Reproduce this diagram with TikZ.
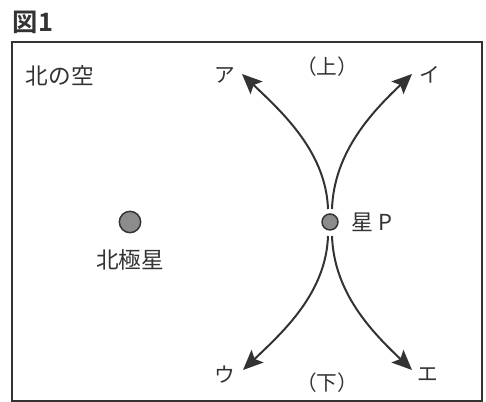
\documentclass[tikz,border=0pt]{standalone}
\usepackage{fontspec}
\newfontfamily\jp{Noto Sans CJK JP}
\newfontfamily\jpb{Noto Sans CJK JP Bold}
\usetikzlibrary{arrows.meta}
\definecolor{ink}{HTML}{333333}
\definecolor{dotfill}{HTML}{8C8C8C}
\tikzset{
  lbl/.style={font=\jp\fontsize{15.5pt}{15.5pt}\selectfont, text=ink, inner sep=0pt},
  biglbl/.style={font=\jp\fontsize{17pt}{17pt}\selectfont, text=ink, inner sep=0pt},
  trail/.style={draw=ink, line width=1.5pt, -{Stealth[length=15pt,width=13pt,inset=3pt]}},
  starball/.style={circle, draw=ink, line width=1.1pt, fill=dotfill, inner sep=0pt},
}
\begin{document}
\begin{tikzpicture}[x=0.75pt,y=0.75pt]
\useasboundingbox (0,0) rectangle (486,402);
\fill[white] (0,0) rectangle (486,402);
\draw[ink, line width=1.3pt] (12,1) rectangle (482,360);
\node[font=\jpb\fontsize{19pt}{19pt}\selectfont, text=ink, inner sep=0pt] (title) at (33,380) {図1};
\node[biglbl] (sky) at (60,326) {北の空};
\node[starball, minimum size=16pt] (polaris) at (130,180) {};
\node[biglbl] (polarislbl) at (130,142) {北極星};
\node[starball, minimum size=12pt] (P) at (330,180) {};
\node[lbl, anchor=west, font=\jp\fontsize{16.5pt}{16.5pt}\selectfont] (Plbl) at (351,180) {星 P};
\coordinate (s1) at (328,193);
\coordinate (s2) at (332,193);
\coordinate (s3) at (328,166);
\coordinate (s4) at (332,166);
\coordinate (ta) at (242,328);
\coordinate (ti) at (412,328);
\coordinate (tu) at (243,32);
\coordinate (te) at (412,32);
\draw[trail] (s1) .. controls (326,250) and (282,290) .. (ta);
\draw[trail] (s2) .. controls (334,250) and (372,290) .. (ti);
\draw[trail] (s3) .. controls (326,109) and (283,70) .. (tu);
\draw[trail] (s4) .. controls (334,109) and (372,70) .. (te);
\node[lbl] (A) at (225,327) {ア};
\node[lbl] (I) at (430,327) {イ};
\node[lbl] (up) at (327,335) {（上）};
\node[lbl] (U) at (225,27) {ウ};
\node[lbl] (down) at (327,19) {（下）};
\node[lbl] (E) at (428,27) {エ};
\end{tikzpicture}
\end{document}
